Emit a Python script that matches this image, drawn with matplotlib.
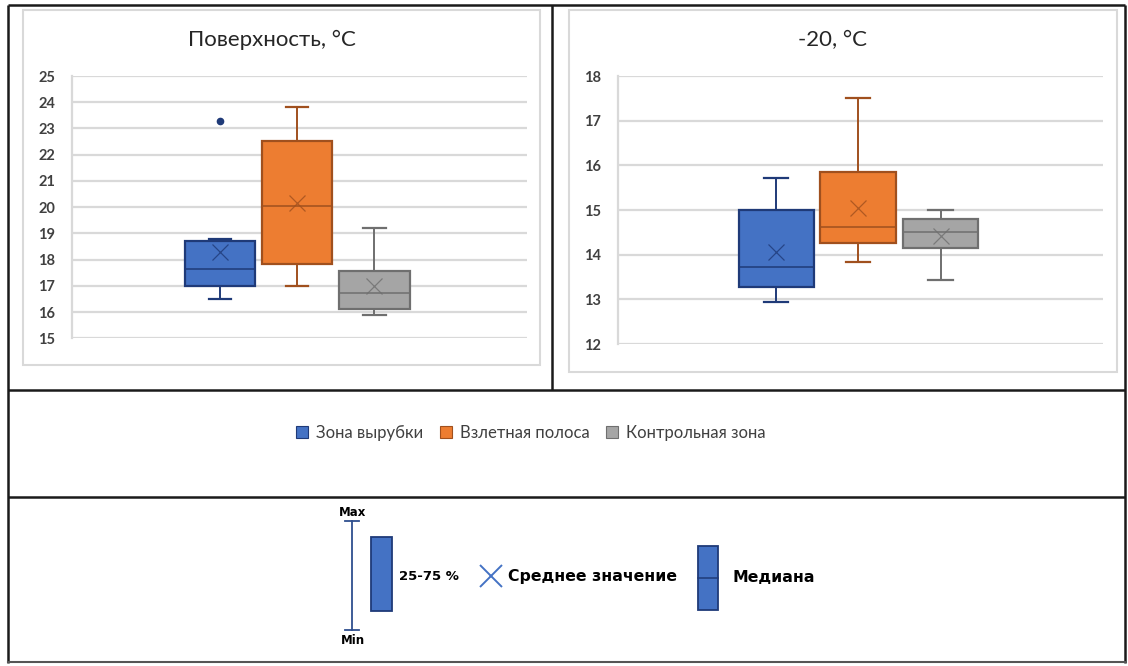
import matplotlib
matplotlib.use("Agg")
import matplotlib.pyplot as plt
from matplotlib.patches import Rectangle, Patch

plt.rcParams['font.family'] = ['Lato', 'DejaVu Sans']

# ---- data -------------------------------------------------------------
categories = ['Зона вырубки', 'Взлетная полоса', 'Контрольная зона']

surf_min = [16.5, 17.0, 15.9]
surf_q1 = [17.0, 17.82, 16.1]
surf_med = [17.65, 20.05, 16.72]
surf_q3 = [18.72, 22.52, 17.55]
surf_max = [18.8, 23.8, 19.2]
surf_mean = [18.28, 20.17, 16.98]
surf_outliers = [[23.3], [], []]

d20_min = [12.95, 13.83, 13.43]
d20_q1 = [13.27, 14.26, 14.16]
d20_med = [13.72, 14.61, 14.5]
d20_q3 = [15.0, 15.84, 14.79]
d20_max = [15.72, 17.5, 15.0]
d20_mean = [14.07, 15.04, 14.42]
d20_outliers = [[], [], []]

surf_ticks = list(range(15, 26))
d20_ticks = list(range(12, 19))

# ---- styling ----------------------------------------------------------
fills = ['#4472C4', '#ED7D31', '#A5A5A5']
edges = ['#1F3A78', '#A0501E', '#6F6F6F']
grid_c = '#D9D9D9'
text_c = '#404040'

W, H = 1128, 666
fig = plt.figure(figsize=(W / 100, H / 100), dpi=100)


def px_axes(x0, y0, x1, y1, **kw):
    return fig.add_axes([x0 / W, 1 - y1 / H, (x1 - x0) / W, (y1 - y0) / H], **kw)


# background layer for frames
bg = px_axes(0, 0, W, H, zorder=-5)
bg.set_xlim(0, W)
bg.set_ylim(H, 0)
bg.axis('off')

# chart-area borders
bg.add_patch(Rectangle((23, 10), 517, 355, fill=False, ec=grid_c, lw=1.5))
bg.add_patch(Rectangle((569, 10), 548, 362, fill=False, ec=grid_c, lw=1.5))

# table frame lines
frame_kw = dict(color='#1a1a1a', lw=1.8, solid_capstyle='butt')
bg.plot([8, 1125], [5, 5], **frame_kw)
bg.plot([8, 8], [5, 663], **frame_kw)
bg.plot([1125, 1125], [5, 663], **frame_kw)
bg.plot([552, 552], [5, 390], **frame_kw)
bg.plot([8, 1125], [390, 390], **frame_kw)
bg.plot([8, 1125], [497, 497], **frame_kw)
bg.plot([8, 1125], [662, 662], color='#555555', lw=1.5)

positions = [0.326, 0.495, 0.665]


def draw_box(ax, mins, q1s, meds, q3s, maxs, means, outs, ticks, title, title_x):
    stats = []
    for i in range(len(categories)):
        stats.append(dict(whislo=mins[i], q1=q1s[i], med=meds[i], q3=q3s[i],
                          whishi=maxs[i], mean=means[i], fliers=outs[i],
                          label=categories[i]))
    for i, st in enumerate(stats):
        ax.bxp([st], positions=[positions[i]], widths=0.155, patch_artist=True,
               showmeans=True, capwidths=0.05,
               boxprops=dict(facecolor=fills[i], edgecolor=edges[i], lw=1.6),
               medianprops=dict(color=edges[i], lw=1.1),
               whiskerprops=dict(color=edges[i], lw=1.4),
               capprops=dict(color=edges[i], lw=1.6),
               meanprops=dict(marker='x', markeredgecolor=edges[i],
                              markersize=11, markeredgewidth=0.9, alpha=0.8),
               flierprops=dict(marker='o', markerfacecolor='#1F3A78',
                               markeredgecolor='#1F3A78', markersize=4.5))
    ax.set_xlim(0, 1)
    ax.set_ylim(ticks[0], ticks[-1])
    ax.set_yticks(ticks)
    ax.set_xticks([])
    ax.grid(axis='y', color=grid_c, lw=1.6)
    ax.set_axisbelow(True)
    for s in ['top', 'right', 'bottom']:
        ax.spines[s].set_visible(False)
    ax.spines['left'].set_color(grid_c)
    ax.spines['left'].set_linewidth(1.6)
    ax.tick_params(axis='y', length=0, pad=12, labelsize=10.5, labelcolor=text_c)
    for lab in ax.get_yticklabels():
        lab.set_fontweight('bold')
    ax.patch.set_alpha(0)
    fig.text(title_x / W, 1 - 40 / H, title, ha='center', va='center',
             fontsize=16, color='#262626')


ax1 = px_axes(71.7, 76, 526.7, 338.3)
draw_box(ax1, surf_min, surf_q1, surf_med, surf_q3, surf_max, surf_mean,
         surf_outliers, surf_ticks, 'Поверхность, °С', 272)

ax2 = px_axes(618, 76, 1103, 344)
draw_box(ax2, d20_min, d20_q1, d20_med, d20_q3, d20_max, d20_mean,
         d20_outliers, d20_ticks, '-20, °С', 832)

# series legend
handles = [Patch(facecolor=fills[i], edgecolor=edges[i], lw=0.8, label=categories[i])
           for i in range(len(categories))]
fig.legend(handles=handles, loc='center', bbox_to_anchor=(531 / W, 1 - 433 / H),
           ncol=3, frameon=False, fontsize=12, labelcolor='#404040',
           handlelength=0.7, handleheight=0.7, handletextpad=0.5,
           columnspacing=1.0)

# key explaining the box elements
key_font = ['DejaVu Sans']
key_c = '#2F4F8F'
bg.plot([352, 352], [521, 630], color=key_c, lw=1.3)
bg.plot([345, 359], [521, 521], color=key_c, lw=1.3)
bg.plot([345, 359], [630, 630], color=key_c, lw=1.3)
bg.text(353, 512, 'Max', ha='center', va='center', fontsize=8.5,
        fontweight='bold', color='black', family=key_font)
bg.text(353, 641, 'Min', ha='center', va='center', fontsize=8.5,
        fontweight='bold', color='black', family=key_font)
bg.add_patch(Rectangle((371, 537), 21, 74, facecolor='#4472C4',
                       edgecolor='#1F3A78', lw=1.3))
bg.text(399, 576, '25-75 %', ha='left', va='center', fontsize=9.5,
        fontweight='bold', color='black', family=key_font)
bg.plot([491], [576], marker='x', markersize=16, markeredgewidth=1.4,
        color='#4472C4')
bg.text(508, 577, 'Среднее значение', ha='left', va='center', fontsize=11.3,
        fontweight='bold', color='black', family=key_font)
bg.add_patch(Rectangle((698, 546), 20, 64, facecolor='#4472C4',
                       edgecolor='#1F3A78', lw=1.3))
bg.plot([698, 718], [578, 578], color='#1F3A78', lw=1.1)
bg.text(733, 578, 'Медиана', ha='left', va='center', fontsize=11.3,
        fontweight='bold', color='black', family=key_font)

fig.savefig('out.png', dpi=100, facecolor='white')
